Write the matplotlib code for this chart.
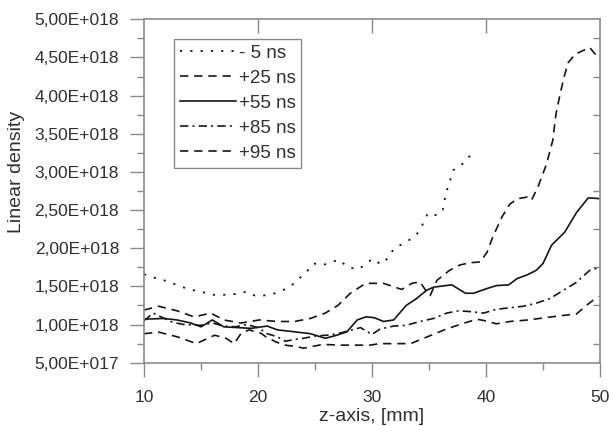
import numpy as np
import matplotlib
matplotlib.use('Agg')
import matplotlib.pyplot as plt
from matplotlib.ticker import FuncFormatter, MultipleLocator

plt.rcParams['font.family'] = ['Liberation Sans', 'DejaVu Sans']

# values in units of 1e18
z_m5 = [10.0, 11.0, 12.0, 13.0, 14.0, 15.0, 16.0, 17.0, 18.0, 19.0, 19.7, 20.5, 21.5,
        22.2, 23.0, 23.6, 24.3, 24.9, 25.7, 26.5, 27.1, 27.8, 28.7, 29.4, 30.0, 30.8,
        31.4, 31.9, 32.7, 33.4, 34.1, 34.5, 34.9, 35.7, 36.2, 36.5, 36.8, 37.1, 37.9,
        38.5, 39.3]
n_m5 = [1.66, 1.61, 1.57, 1.51, 1.46, 1.43, 1.39, 1.39, 1.40, 1.43, 1.38, 1.38, 1.41,
        1.45, 1.52, 1.60, 1.70, 1.80, 1.78, 1.82, 1.85, 1.76, 1.72, 1.78, 1.86, 1.79,
        1.87, 1.99, 2.06, 2.12, 2.21, 2.33, 2.46, 2.43, 2.50, 2.73, 2.86, 3.02, 3.10,
        3.20, 3.24]

z_25 = [10.0, 11.3, 12.9, 14.4, 15.85, 17.0, 18.5, 20.1, 21.7, 23.2, 24.6, 25.9, 27.0,
        28.1, 29.45, 31.0, 32.6, 33.5, 34.2, 34.7, 35.1, 35.7, 36.8, 37.7, 38.6, 39.5,
        40.1, 40.6, 41.4, 42.1, 42.8, 43.6, 44.0, 44.6, 45.3, 45.85, 46.14, 46.5, 46.84,
        47.2, 47.8, 48.5, 49.1, 49.6, 50.0]
n_25 = [1.19, 1.24, 1.18, 1.10, 1.15, 1.06, 1.02, 1.06, 1.04, 1.04, 1.08, 1.15, 1.25,
        1.41, 1.54, 1.54, 1.46, 1.54, 1.56, 1.45, 1.38, 1.58, 1.71, 1.78, 1.81, 1.82,
        1.95, 2.15, 2.41, 2.58, 2.65, 2.67, 2.63, 2.82, 3.10, 3.41, 3.76, 4.02, 4.24,
        4.43, 4.54, 4.59, 4.63, 4.54, 4.48]

z_55 = [10.0, 11.75, 12.9, 14.1, 15.0, 16.0, 17.0, 18.2, 19.4, 20.8, 21.7, 23.2, 24.6,
        25.9, 26.9, 27.8, 28.7, 29.45, 30.2, 31.0, 31.9, 33.0, 33.9, 34.8, 35.4, 37.0,
        38.2, 38.9, 40.05, 40.9, 42.0, 42.7, 43.6, 44.4, 45.0, 45.75, 46.9, 47.95,
        48.97, 50.0]
n_55 = [1.07, 1.08, 1.06, 1.02, 0.97, 1.06, 0.97, 0.96, 0.95, 0.98, 0.93, 0.905, 0.88,
        0.82, 0.86, 0.905, 1.06, 1.10, 1.09, 1.04, 1.06, 1.25, 1.34, 1.45, 1.49, 1.52,
        1.41, 1.41, 1.47, 1.51, 1.52, 1.60, 1.65, 1.71, 1.80, 2.04, 2.21, 2.47,
        2.66, 2.65]

z_85 = [10.0, 10.8, 11.5, 12.5, 13.5, 15.0, 16.0, 17.0, 18.0, 19.0, 20.0, 20.8, 21.7,
        22.4, 23.0, 24.0, 25.0, 26.0, 27.0, 28.0, 29.0, 30.0, 30.7, 31.9, 33.0, 34.2,
        35.4, 36.55, 37.6, 38.6, 39.8, 40.9, 42.1, 43.3, 44.4, 45.6, 46.8, 47.9, 49.1,
        50.0]
n_85 = [1.05, 1.15, 1.10, 1.03, 1.00, 0.99, 1.02, 0.98, 0.97, 1.00, 0.96, 0.88, 0.84,
        0.78, 0.80, 0.82, 0.85, 0.86, 0.88, 0.92, 0.96, 0.87, 0.94, 0.98, 0.99, 1.04,
        1.08, 1.15, 1.18, 1.17, 1.15, 1.20, 1.22, 1.24, 1.28, 1.34, 1.45, 1.55, 1.71,
        1.75]

z_95 = [10.0, 11.3, 12.9, 14.6, 15.6, 16.2, 17.2, 17.9, 18.5, 19.2, 20.2, 20.8, 21.6,
        22.4, 23.4, 24.0, 25.7, 27.2, 28.6, 29.8, 30.7, 32.2, 33.4, 34.2, 35.2, 36.5,
        37.9, 39.2, 39.9, 40.9, 42.1, 43.7, 45.2, 46.8, 47.95, 48.8, 49.85]
n_95 = [0.88, 0.90, 0.84, 0.75, 0.82, 0.86, 0.82, 0.75, 0.88, 0.93, 0.89, 0.83, 0.77,
        0.73, 0.71, 0.69, 0.74, 0.73, 0.73, 0.73, 0.75, 0.75, 0.75, 0.80, 0.86, 0.94,
        1.01, 1.07, 1.05, 1.01, 1.04, 1.06, 1.09, 1.12, 1.14, 1.25, 1.37]

labels = ['- 5 ns', '+25 ns', '+55 ns', '+85 ns', '+95 ns']
yticks = [0.5, 1.0, 1.5, 2.0, 2.5, 3.0, 3.5, 4.0, 4.5, 5.0]


def sci_fmt(v, pos):
    if v == 0:
        return '0'
    e = int(np.floor(np.log10(abs(v)) + 1e-9))
    m = v / 10 ** e
    return ('%.2f' % m).replace('.', ',') + 'E+%03d' % e


gray = '#8a8a8a'
txt = '#303030'
lc = '#151515'

fig = plt.figure(figsize=(6.12, 4.26), dpi=100)
ax = fig.add_axes([0.2353, 0.1486, 0.7451, 0.8061])

ax.plot(z_m5, np.array(n_m5) * 1e18, color=lc, lw=1.3, ls=(0, (1.2, 4.5)), label=labels[0])
ax.plot(z_25, np.array(n_25) * 1e18, color=lc, lw=1.2, ls=(0, (5, 3.5)), label=labels[1])
ax.plot(z_55, np.array(n_55) * 1e18, color=lc, lw=1.2, ls='-', label=labels[2])
ax.plot(z_85, np.array(n_85) * 1e18, color=lc, lw=1.2, ls=(0, (5, 2.5, 1.2, 2.5)), label=labels[3])
ax.plot(z_95, np.array(n_95) * 1e18, color=lc, lw=1.2, ls=(0, (5, 3.5)), label=labels[4])

ax.set_xlim(10, 50)
ax.set_ylim(0.5e18, 5.0e18)
ax.set_xticks([10, 20, 30, 40, 50])
ax.set_yticks(np.array(yticks) * 1e18)
ax.xaxis.set_minor_locator(MultipleLocator(5))
ax.yaxis.set_minor_locator(MultipleLocator(0.25e18))
ax.yaxis.set_major_formatter(FuncFormatter(sci_fmt))

ax.tick_params(which='major', direction='out', length=10, width=1, color=gray,
               labelsize=12.5, labelcolor=txt, pad=8)
ax.tick_params(axis='x', which='major', pad=10)
ax.tick_params(which='minor', direction='out', length=5, width=1, color=gray)
for s in ax.spines.values():
    s.set_color(gray)
    s.set_linewidth(1.2)

top = ax.secondary_xaxis('top')
top.set_xticks([20, 30, 40])
top.tick_params(direction='in', length=10, width=1, color=gray, labeltop=False)
top.spines['top'].set_visible(False)

right = ax.secondary_yaxis('right')
right.set_yticks(np.arange(0.75, 5.0, 0.5) * 1e18)
right.tick_params(direction='in', length=5, width=1, color=gray, labelright=False)
right.spines['right'].set_visible(False)

ax.set_xlabel('z-axis, [mm]', fontsize=14, color=txt)
ax.xaxis.set_label_coords(0.5, -0.132)
ax.set_ylabel('Linear density', fontsize=14, color=txt)
ax.yaxis.set_label_coords(-0.262, 0.555)

leg = ax.legend(loc='upper left', bbox_to_anchor=(0.066, 0.942), fontsize=13.5,
                handlelength=3.0, handletextpad=0.15, labelspacing=0.42,
                borderpad=0.3, borderaxespad=0, fancybox=False, framealpha=1)
leg.get_frame().set_edgecolor(gray)
leg.get_frame().set_linewidth(1.0)
for t in leg.get_texts():
    t.set_color(txt)

fig.savefig('out.png', dpi=100)
